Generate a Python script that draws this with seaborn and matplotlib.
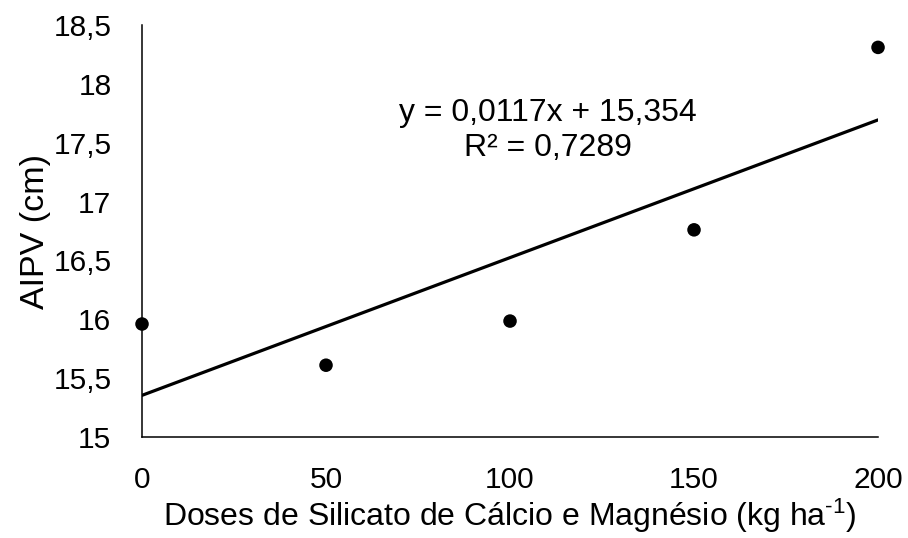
import matplotlib
matplotlib.use("Agg")
import matplotlib.pyplot as plt
import seaborn as sns
import pandas as pd

doses = [0, 50, 100, 150, 200]
aipv = [15.96, 15.61, 15.985, 16.76, 18.31]
slope = 0.0117
intercept = 15.354
x_ticks = [0, 50, 100, 150, 200]
y_ticks = [15, 15.5, 16, 16.5, 17, 17.5, 18, 18.5]
y_tick_labels = ["15", "15,5", "16", "16,5", "17", "17,5", "18", "18,5"]
eq_text = "y = 0,0117x + 15,354\nR² = 0,7289"

sns.set_theme(style="white")
plt.rcParams['font.family'] = ['Liberation Sans', 'DejaVu Sans']
plt.rcParams['mathtext.fontset'] = 'custom'
plt.rcParams['mathtext.rm'] = 'Liberation Sans'
plt.rcParams['mathtext.it'] = 'Liberation Sans'
plt.rcParams['mathtext.default'] = 'regular'

fig = plt.figure(figsize=(9.08, 5.38), dpi=100)
ax = fig.add_axes([0.1564, 0.1877, 0.967 - 0.1564, 0.9535 - 0.1877])

df = pd.DataFrame({"x": doses, "y": aipv})
trend = pd.DataFrame({"x": [doses[0], doses[-1]],
                      "y": [intercept + slope * doses[0], intercept + slope * doses[-1]]})
sns.lineplot(data=trend, x="x", y="y", ax=ax, color="black", linewidth=2.3)
sns.scatterplot(data=df, x="x", y="y", ax=ax, color="black", s=95, edgecolor="none", zorder=5, clip_on=False)

ax.set_xlim(0, 200)
ax.set_ylim(15, 18.5)
ax.set_xticks(x_ticks)
ax.set_xticklabels([str(v) for v in x_ticks])
ax.set_yticks(y_ticks)
ax.set_yticklabels(y_tick_labels)
ax.tick_params(axis="both", length=0, labelsize=21.5, colors="black")
ax.tick_params(axis="x", pad=21)
ax.tick_params(axis="y", pad=22)

for side in ["top", "right"]:
    ax.spines[side].set_visible(False)
for side in ["left", "bottom"]:
    ax.spines[side].set_color("black")
    ax.spines[side].set_linewidth(1.1)

ax.set_xlabel("Doses de Silicato de Cálcio e Magnésio (kg ha$^{\u2010\u0031}$)", fontsize=23, color="black", labelpad=2)
ax.set_ylabel("AIPV (cm)", fontsize=24.5, color="black", labelpad=2)

ax.text(0.552, 0.745, eq_text, transform=ax.transAxes, ha="center", va="center",
        fontsize=23, color="black", linespacing=1.22)

fig.savefig("out.png", dpi=100, facecolor="white")
